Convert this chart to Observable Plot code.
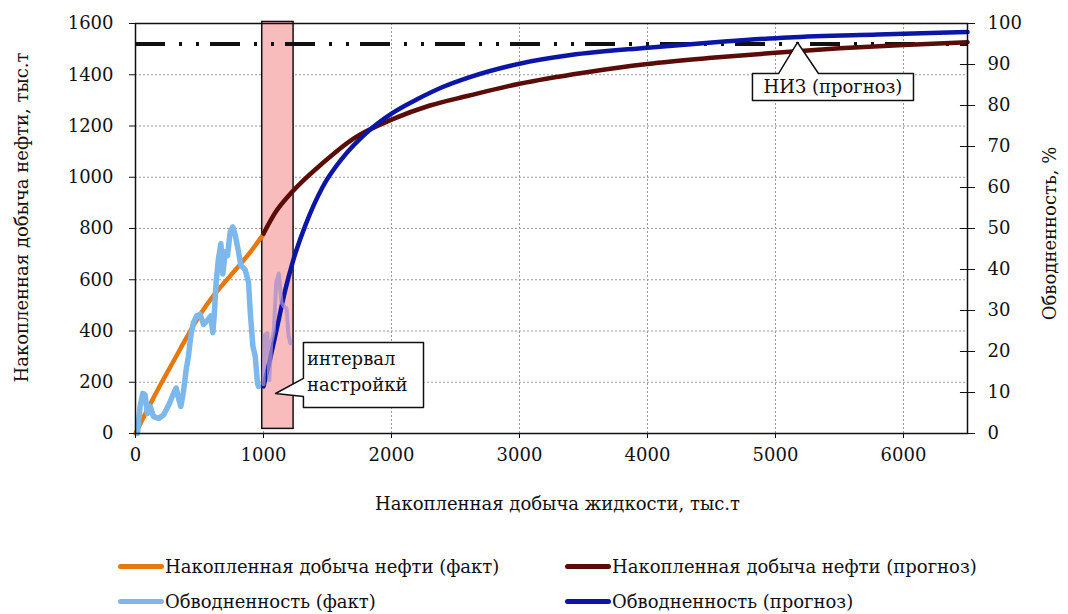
<!DOCTYPE html>
<html>
<head>
<meta charset="utf-8">
<script src="https://cdn.jsdelivr.net/npm/d3@7"></script>
<script src="https://cdn.jsdelivr.net/npm/@observablehq/plot@0.6"></script>
<style>
  html, body { margin: 0; padding: 0; background: #fff; }
  #wrap { position: relative; width: 1068px; height: 614px; font-family: "DejaVu Serif", serif; }
  .leg { position: absolute; display: flex; align-items: center; font-size: 18px; color: #111; white-space: nowrap; }
  .sw { width: 46px; height: 5px; border-radius: 3px; margin-right: 1px; }
</style>
</head>
<body>
<div id="wrap"></div>
<script>
// ---- Data ----
// Cumulative liquid production, thousand t (x) and cumulative oil production, thousand t (fact)
const oilFactLiq = [0, 100, 200, 300, 400, 500, 600, 700, 800, 900, 1000];
const oilFact    = [0, 100, 195, 285, 375, 460, 532, 592, 650, 710, 778];

// Cumulative oil production forecast, thousand t
const oilFcLiq = [1000, 1100, 1200, 1300, 1450, 1700, 2000, 2300, 2600, 3000, 3500, 4000, 4500, 5000, 5500, 6000, 6500];
const oilFc    = [780, 868, 930, 982, 1050, 1150, 1225, 1280, 1318, 1365, 1408, 1442, 1466, 1486, 1503, 1516, 1527];

// Water cut (fact), %
const wcFactLiq = [15, 36, 57, 75, 93, 115, 141, 180, 219, 245, 266, 292, 318, 336, 354, 375, 396, 414, 432, 453, 479, 505, 531, 557, 589, 604, 615, 630, 648, 667, 682, 701, 719, 740, 760, 779, 805, 823, 857, 883, 896, 917, 935, 953, 961];
const wcFact    = [0, 6.6, 9.8, 9.4, 4.9, 6.6, 4.1, 3.7, 4.5, 6.1, 7.4, 9.4, 11.1, 8.6, 6.6, 10.3, 15.6, 18.9, 23.8, 27.1, 28.7, 29.1, 26.6, 27.4, 28.7, 24.6, 28.7, 36.9, 42.6, 46.3, 38.9, 44.3, 43.4, 49.2, 50.4, 48.4, 44.3, 41.0, 39.9, 36.9, 29.9, 21.3, 18.9, 12.3, 11.5];

// Water cut (fact) inside the tuning interval, %
const wcIntLiq = [1000, 1010, 1030, 1045, 1060, 1080, 1100, 1120, 1140, 1160, 1180, 1195, 1210];
const wcInt    = [12, 24, 24.5, 13, 22, 25, 37, 39, 32, 31, 30.5, 24, 22];

// Water cut forecast, %
const wcFcLiq = [1000, 1050, 1100, 1170, 1230, 1330, 1460, 1620, 1800, 2000, 2200, 2400, 2600, 3000, 3400, 4000, 4600, 5100, 5800, 6500];
const wcFc    = [11.5, 18, 25, 35, 42, 51, 60, 67.3, 73.2, 78, 81.5, 84.5, 86.8, 90.2, 92.3, 94.1, 95.6, 96.6, 97.3, 97.9];

// Forecast initial recoverable reserves (НИЗ), thousand t
const niz = [1520];
// Tuning interval, cumulative liquid thousand t
const tuneInterval = [990, 1235];

// Axis ticks
const xTicks = [0, 1000, 2000, 3000, 4000, 5000, 6000];
const yTicks = [0, 200, 400, 600, 800, 1000, 1200, 1400, 1600];
const wcTicks = [0, 10, 20, 30, 40, 50, 60, 70, 80, 90, 100];
const xGrid = [1000, 2000, 3000, 4000, 5000, 6000];
const yGrid = [200, 400, 600, 800, 1000, 1200, 1400];

// Labels
const xTitle = "Накопленная добыча жидкости, тыс.т";
const yTitle = "Накопленная добыча нефти, тыс.т";
const y2Title = "Обводненность, %";
const seriesNames = ["Накопленная добыча нефти (факт)", "Накопленная добыча нефти (прогноз)", "Обводненность (факт)", "Обводненность (прогноз)"];
const colors = ["#e6780c", "#5a0c08", "#7db8ec", "#0c16a6"];
const lavender = "#a58fcf";

// Callouts (data coordinates: x = liquid, y = oil)
const nizBox = [[4820,1405],[5025,1405],[5172,1526],[5336,1405],[6078,1405],[6078,1300],[4820,1300],[4820,1405]];
const nizText = [{x: 5449, y: 1352, t: "НИЗ (прогноз)"}];
const intBox = [[1312,355],[2250,355],[2250,101],[1312,101],[1312,144],[1094,156],[1312,215],[1312,355]];
const intText = [{x: 1340, y: 290, t: "интервал"}, {x: 1340, y: 190, t: "настройкй"}];

// ---- Build tables ----
const K = 16; // 100 % ↔ 1600 thousand t
const zip = (xs, ys, f = 1) => xs.map((x, i) => ({x, y: ys[i] * f}));
const tOilFact = zip(oilFactLiq, oilFact);
const tOilFc = zip(oilFcLiq, oilFc);
const tWcFact = zip(wcFactLiq, wcFact, K);
const tWcInt = zip(wcIntLiq, wcInt, K);
const tWcFc = zip(wcFcLiq, wcFc, K);

const FS = 18;
const chart = Plot.plot({
  width: 1068,
  height: 530,
  marginLeft: 135,
  marginRight: 101,
  marginTop: 23,
  marginBottom: 97,
  style: {fontFamily: "DejaVu Serif, serif", fontSize: FS + "px", color: "#111", background: "#fff"},
  x: {domain: [0, 6500]},
  y: {domain: [0, 1600]},
  marks: [
    Plot.ruleX(xGrid, {stroke: "#9a9a9a", strokeDasharray: "2,2", strokeWidth: 1}),
    Plot.ruleY(yGrid, {stroke: "#9a9a9a", strokeDasharray: "2,2", strokeWidth: 1}),
    Plot.rect([tuneInterval], {x1: d => d[0], x2: d => d[1], y1: 18, y2: 1606, fill: "#f9bcbc", stroke: "#111", strokeWidth: 1.5, inset: 0}),
    Plot.ruleY(niz, {stroke: "#111", strokeWidth: 4, strokeDasharray: "30,14,3,14,3,11"}),
    Plot.line(tOilFact, {x: "x", y: "y", stroke: colors[0], strokeWidth: 4.5, curve: "monotone-x"}),
    Plot.line(tOilFc, {x: "x", y: "y", stroke: colors[1], strokeWidth: 4.5, curve: "monotone-x"}),
    Plot.line(tWcFact, {x: "x", y: "y", stroke: colors[2], strokeWidth: 5.5, strokeLinejoin: "round"}),
    Plot.line(tWcFc, {x: "x", y: "y", stroke: colors[3], strokeWidth: 4.5, curve: "monotone-x"}),
    Plot.line(tWcInt, {x: "x", y: "y", stroke: lavender, strokeWidth: 4, strokeOpacity: 0.75}),
    // callouts
    Plot.line(nizBox, {x: d => d[0], y: d => d[1], stroke: "#111", strokeWidth: 1.5, fill: "#fff"}),
    Plot.text(nizText, {x: "x", y: "y", text: "t", fontSize: FS, fill: "#111"}),
    Plot.line(intBox, {x: d => d[0], y: d => d[1], stroke: "#111", strokeWidth: 1.5, fill: "#fff"}),
    Plot.text(intText, {x: "x", y: "y", text: "t", textAnchor: "start", fontSize: FS, fill: "#111"}),
    // frame and axes
    Plot.frame({stroke: "#111", strokeWidth: 1.5}),
    Plot.axisX({ticks: xTicks, tickSize: 5, tickPadding: 10, label: null, tickFormat: d => String(d)}),
    Plot.axisY({ticks: yTicks, tickSize: 6, tickPadding: 16, label: null, tickFormat: d => String(d)}),
    Plot.axisY({anchor: "right", ticks: wcTicks.map(v => v * K), tickSize: 7, tickPadding: 13, label: null, tickFormat: d => String(d / K)}),
    Plot.ruleY(wcTicks.map(v => v * K), {x1: 6445, x2: 6500, stroke: "#111", strokeWidth: 1}),
    Plot.text([xTitle], {frameAnchor: "bottom", textAnchor: "middle", dx: 6, dy: 76, fontSize: FS, fill: "#111"}),
    Plot.text([yTitle], {frameAnchor: "left", textAnchor: "middle", dx: -113, dy: -11, rotate: -90, fontSize: FS, fill: "#111"}),
    Plot.text([y2Title], {frameAnchor: "right", textAnchor: "middle", dx: 83, dy: 5, rotate: -90, fontSize: FS, fill: "#111"})
  ]
});

const wrap = document.getElementById("wrap");
wrap.appendChild(chart);

const legPos = [[118, 568], [565, 568], [118, 603], [565, 603]];
seriesNames.forEach((name, i) => {
  const d = document.createElement("div");
  d.className = "leg";
  d.style.left = legPos[i][0] + "px";
  d.style.top = (legPos[i][1] - 12) + "px";
  const s = document.createElement("div");
  s.className = "sw";
  s.style.background = colors[i];
  const t = document.createElement("span");
  t.textContent = name;
  d.appendChild(s);
  d.appendChild(t);
  wrap.appendChild(d);
});
</script>
</body>
</html>
